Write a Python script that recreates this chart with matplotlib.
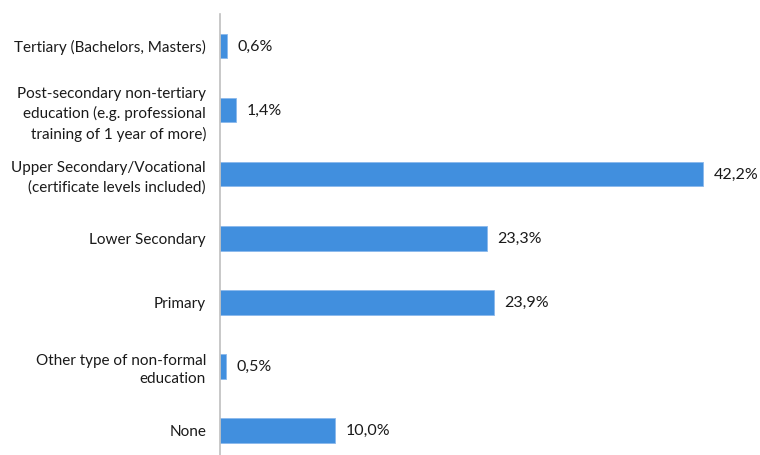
import matplotlib
matplotlib.use("Agg")
from matplotlib import pyplot

categories = [
    "Tertiary (Bachelors, Masters)",
    "Post-secondary non-tertiary\neducation (e.g. professional\ntraining of 1 year of more)",
    "Upper Secondary/Vocational\n(certificate levels included)",
    "Lower Secondary",
    "Primary",
    "Other type of non-formal\neducation",
    "None",
]
shares = [0.6, 1.4, 42.2, 23.3, 23.9, 0.5, 10.0]
labels = ["0,6%", "1,4%", "42,2%", "23,3%", "23,9%", "0,5%", "10,0%"]

pyplot.rcParams["font.family"] = ["Lato", "DejaVu Sans"]

fig = pyplot.figure(figsize=(7.6, 4.55), dpi=100)
ax = fig.add_axes([220 / 760, 0, 540 / 760, 441 / 455])

pos = list(range(len(categories)))
ax.barh(pos, shares, height=0.39, color="#418fde", edgecolor="#8ab8ec", linewidth=0.6)

# value labels next to each bar
for y, v, t in zip(pos, shares, labels):
    ax.text(v + 0.95, y + 0.02, t, va="center", ha="left", fontsize=11.5, color="#1a1a1a")

ax.set_yticks(pos)
ax.set_yticklabels(categories, fontsize=11, color="#1a1a1a", linespacing=1.45)
ax.tick_params(axis="y", length=0, pad=10)
ax.set_xticks([])
ax.set_xlim(0, 47.16)
ax.set_ylim(6.39, -0.5)

for side in ["top", "right", "bottom"]:
    ax.spines[side].set_visible(False)
ax.spines["left"].set_color("#bfbfbf")
ax.spines["left"].set_linewidth(1.2)

fig.savefig("out.png", dpi=100)
